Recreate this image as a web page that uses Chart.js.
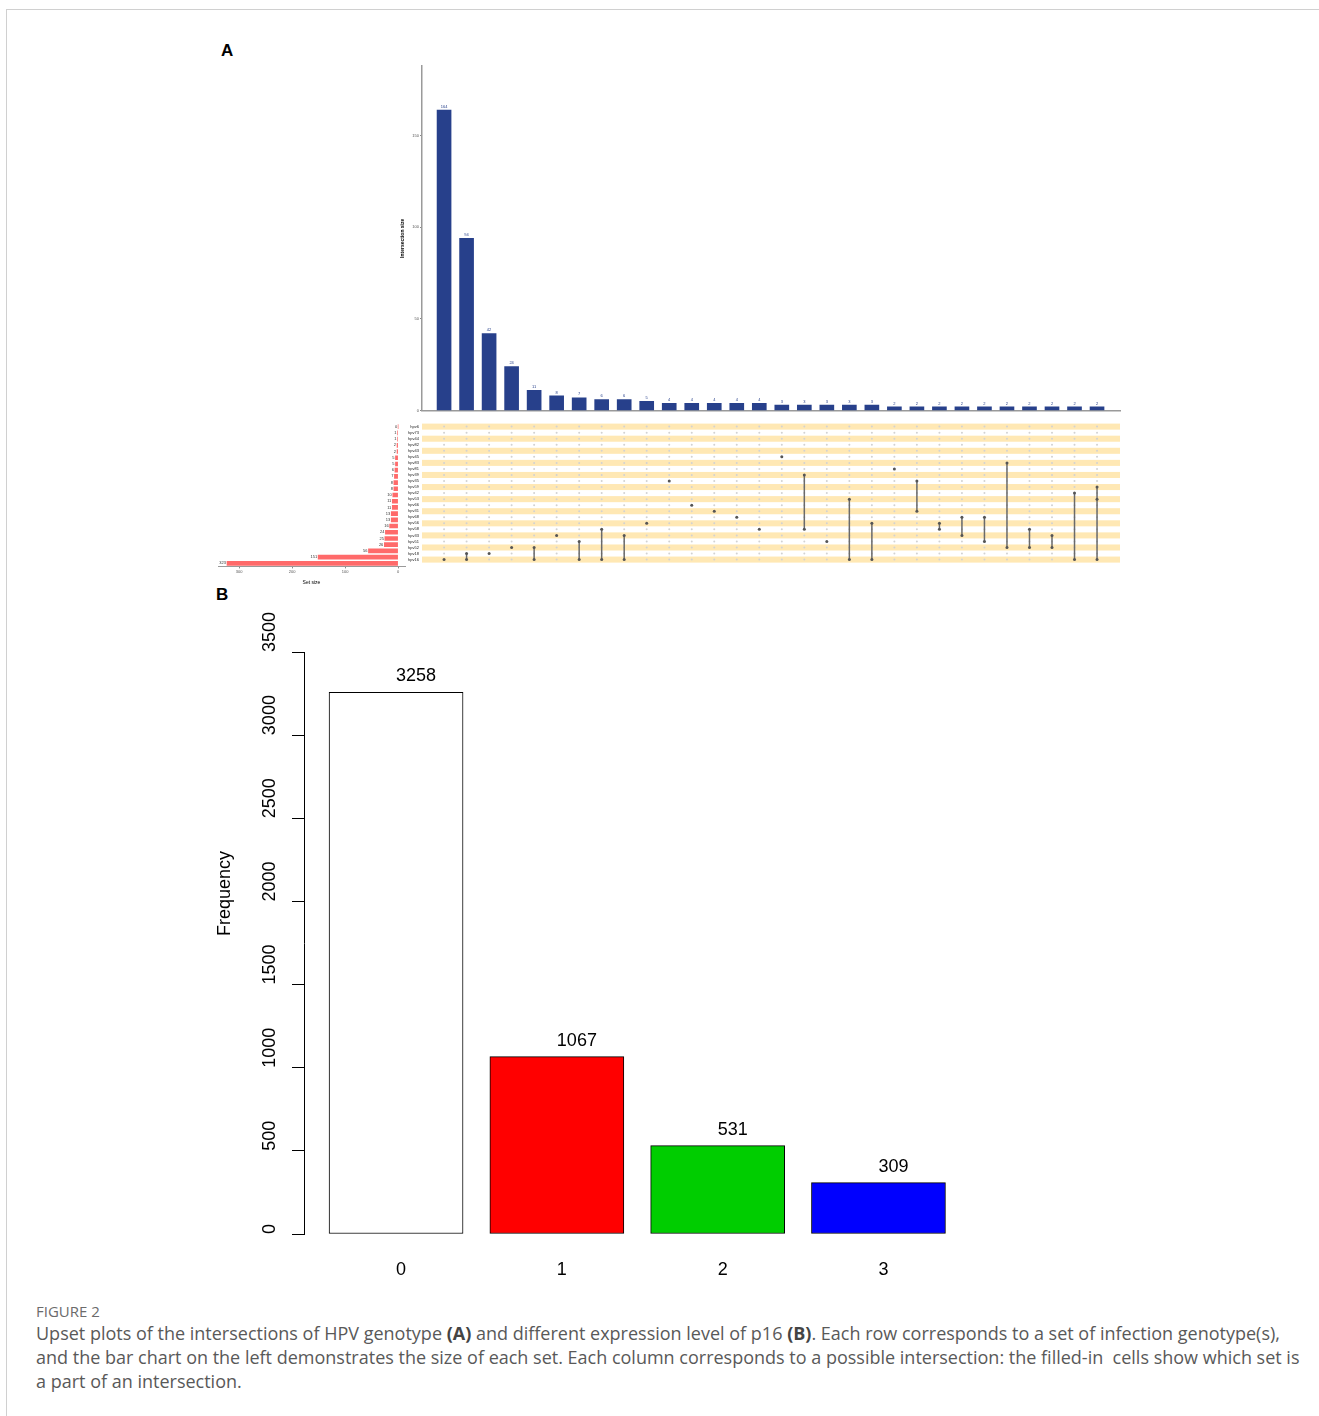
<!DOCTYPE html>
<html>
<head>
<meta charset="utf-8">
<script src="https://cdn.jsdelivr.net/npm/chart.js@4.4.0/dist/chart.umd.min.js"></script>
<style>
  body { margin:0; background:#fff; width:1319px; height:1416px; position:relative; overflow:hidden; font-family: Arial, "Liberation Sans", sans-serif; }
  .frame { position:absolute; left:6px; top:9px; width:1320px; height:1420px; border-top:1px solid #d0d0d0; border-left:1px solid #d0d0d0; }
  .panel { position:absolute; font-weight:bold; font-size:17px; color:#000; }
  .box { position:absolute; }
  .cap-head { position:absolute; left:36px; top:1301px; font-family:"Open Sans", "Noto Sans", sans-serif; font-size:15px; color:#6b6b6b; }
  .cap { position:absolute; left:36px; top:1321px; font-family:"Open Sans", "Noto Sans", sans-serif; font-size:18px; line-height:24px; color:#595959; white-space:nowrap; }
  .cap b { color:#444; }
</style>
</head>
<body>
<div class="frame"></div>
<div class="panel" style="left:221px; top:41px;">A</div>
<div class="panel" style="left:216px; top:585px;">B</div>

<div class="box" style="left:400px; top:56px;"><canvas id="interChart" width="730" height="358"></canvas></div>
<div class="box" style="left:400px; top:418px;"><canvas id="matrixChart" width="730" height="150"></canvas></div>
<div class="box" style="left:205px; top:418px;"><canvas id="setChart" width="215" height="170"></canvas></div>
<div class="box" style="left:200px; top:585px;"><canvas id="p16Chart" width="800" height="700"></canvas></div>

<div class="cap-head">FIGURE 2</div>
<div class="cap">Upset plots of the intersections of HPV genotype <b>(A)</b> and different expression level of p16 <b>(B)</b>. Each row corresponds to a set of infection genotype(s),<br>and the bar chart on the left demonstrates the size of each set. Each column corresponds to a possible intersection: the filled-in &nbsp;cells show which set is<br>a part of an intersection.</div>

<script>
// --- data (panel A) ---
const setNames = ['hpv6','hpv73','hpv44','hpv82','hpv43','hpv45','hpv83','hpv81','hpv39','hpv35','hpv59','hpv42',
                  'hpv53','hpv66','hpv31','hpv68','hpv56','hpv58','hpv33','hpv51','hpv52','hpv18','hpv16'];
const setSizes = [0,1,1,2,2,5,5,6,7,8,8,10,11,11,13,13,16,24,25,26,56,151,323];

const interValues = [164,94,42,24,11,8,7,6,6,5,4,4,4,4,4,3,3,3,3,3,2,2,2,2,2,2,2,2,2,2];
const interMembers = [
  ['hpv16'], ['hpv18','hpv16'], ['hpv18'], ['hpv52'], ['hpv52','hpv16'], ['hpv33'],
  ['hpv51','hpv16'], ['hpv58','hpv16'], ['hpv33','hpv16'], ['hpv56'], ['hpv35'], ['hpv66'],
  ['hpv31'], ['hpv68'], ['hpv58'], ['hpv45'], ['hpv39','hpv58'], ['hpv51'],
  ['hpv53','hpv16'], ['hpv56','hpv16'], ['hpv81'], ['hpv35','hpv31'], ['hpv56','hpv58'], ['hpv68','hpv33'],
  ['hpv68','hpv51'], ['hpv83','hpv52'], ['hpv58','hpv52'], ['hpv33','hpv52'], ['hpv42','hpv16'], ['hpv59','hpv53','hpv16']
];
const interTicks = [0, 50, 100, 150];
const setTicks = [0, 100, 200, 300];

// --- data (panel B) ---
const p16Levels = ['0','1','2','3'];
const p16Counts = [3258, 1067, 531, 309];
const p16Colors = ['#ffffff','#ff0000','#00cd00','#0000ff'];
const freqTicks = [0,500,1000,1500,2000,2500,3000,3500];

Chart.defaults.font.family = 'Arial, "Liberation Sans", sans-serif';
Chart.defaults.animation = false;

const barBlue = '#27408b';
const xRange = { min: -0.98, max: 30.02 };   // column index range shared by bars and matrix
const rowRange = { min: -0.5, max: 22.5 };

// --- intersection size bars ---
new Chart(document.getElementById('interChart'), {
  type: 'bar',
  data: {
    datasets: [{
      data: interValues.map((v, i) => ({ x: i, y: v })),
      backgroundColor: barBlue,
      barThickness: 14
    }]
  },
  options: {
    responsive: false,
    layout: { padding: { top: 10, right: 10, bottom: 2, left: 0 } },
    plugins: { legend: { display: false }, tooltip: { enabled: false } },
    scales: {
      x: {
        type: 'linear', min: xRange.min, max: xRange.max, offset: false,
        grid: { display: false, offset: false },
        ticks: { display: false },
        border: { color: '#9a9a9a', width: 1.5 },
        afterFit: s => { s.height = 0; }
      },
      y: {
        min: 0, max: 188,
        afterBuildTicks: s => { s.ticks = interTicks.map(v => ({ value: v })); },
        afterFit: s => { s.width = 22; },
        grid: { drawOnChartArea: false, tickLength: 2, color: '#888' },
        border: { color: '#9a9a9a', width: 1.5 },
        ticks: { font: { size: 4 }, color: '#555', padding: 1 },
        title: { display: true, text: 'Intersection size', font: { size: 5, weight: 'bold' }, color: '#000', padding: 0 }
      }
    }
  },
  plugins: [{
    id: 'barValues',
    afterDatasetsDraw(chart) {
      const ctx = chart.ctx;
      ctx.save();
      ctx.font = '4px Arial';
      ctx.fillStyle = barBlue;
      ctx.textAlign = 'center';
      ctx.textBaseline = 'bottom';
      chart.getDatasetMeta(0).data.forEach((bar, i) => {
        ctx.fillText(String(interValues[i]), bar.x, bar.y - 1.5);
      });
      ctx.restore();
    }
  }]
});

// --- matrix ---
const emptyDots = [];
const fullDots = [];
const lineSets = [];
interMembers.forEach((members, col) => {
  const rows = members.map(m => setNames.indexOf(m));
  setNames.forEach((name, r) => {
    if (rows.includes(r)) fullDots.push({ x: col, y: r });
    else emptyDots.push({ x: col, y: r });
  });
  if (rows.length > 1) {
    lineSets.push({
      type: 'line',
      order: 2,
      data: [{ x: col, y: Math.min(...rows) }, { x: col, y: Math.max(...rows) }],
      borderColor: '#6a6a6a', borderWidth: 1.5, pointRadius: 0, showLine: true
    });
  }
});

new Chart(document.getElementById('matrixChart'), {
  type: 'scatter',
  data: {
    datasets: [
      { data: emptyDots, order: 3, pointRadius: 1, backgroundColor: '#d2d2d2', borderWidth: 0 },
      ...lineSets,
      { data: fullDots, order: 1, pointRadius: 1.5, backgroundColor: '#555555', borderWidth: 0 }
    ]
  },
  options: {
    responsive: false,
    layout: { padding: { top: 5.6, right: 10, bottom: 1.6, left: 0 } },
    plugins: { legend: { display: false }, tooltip: { enabled: false } },
    scales: {
      x: { type: 'linear', min: xRange.min, max: xRange.max, offset: false, display: false },
      y: {
        type: 'linear', min: rowRange.min, max: rowRange.max, reverse: true, offset: false,
        afterBuildTicks: s => { s.ticks = setNames.map((n, i) => ({ value: i })); },
        afterFit: s => { s.width = 22; },
        grid: { display: false, drawTicks: false },
        border: { display: false },
        ticks: { font: { size: 4 }, color: '#222', padding: 3, autoSkip: false,
                 callback: v => setNames[v] }
      }
    }
  },
  plugins: [{
    id: 'stripes',
    beforeDatasetsDraw(chart) {
      const { ctx, chartArea, scales } = chart;
      ctx.save();
      ctx.fillStyle = '#ffe8b4';
      setNames.forEach((n, r) => {
        if (r % 2 !== 0) return;
        const y1 = scales.y.getPixelForValue(r - 0.5);
        const y2 = scales.y.getPixelForValue(r + 0.5);
        ctx.fillRect(chartArea.left, Math.min(y1, y2), chartArea.right - chartArea.left, Math.abs(y2 - y1));
      });
      ctx.restore();
    }
  }]
});

// --- set size bars ---
new Chart(document.getElementById('setChart'), {
  type: 'bar',
  data: {
    datasets: [{
      data: setSizes.map((v, r) => ({ x: v, y: r })),
      backgroundColor: '#ff6a6a',
      barThickness: 4
    }]
  },
  options: {
    indexAxis: 'y',
    responsive: false,
    layout: { padding: { top: 5.6, right: 15, bottom: 1.6, left: 13 } },
    plugins: { legend: { display: false }, tooltip: { enabled: false } },
    scales: {
      y: { type: 'linear', min: rowRange.min, max: rowRange.max, reverse: true, offset: false,
           grid: { offset: false }, display: false },
      x: {
        type: 'linear', min: -13, max: 340, reverse: true,
        afterBuildTicks: s => { s.ticks = setTicks.map(v => ({ value: v })); },
        afterFit: s => { s.height = 20; },
        grid: { drawOnChartArea: false, tickLength: 2, color: '#888' },
        border: { color: '#9a9a9a', width: 1 },
        ticks: { font: { size: 4 }, color: '#555', padding: 1, maxRotation: 0 },
        title: { display: true, text: 'Set size', font: { size: 5 }, color: '#000', padding: 1 }
      }
    }
  },
  plugins: [{
    id: 'setValues',
    afterDatasetsDraw(chart) {
      const ctx = chart.ctx;
      ctx.save();
      ctx.font = '4px Arial';
      ctx.fillStyle = '#333';
      ctx.textAlign = 'right';
      ctx.textBaseline = 'middle';
      chart.getDatasetMeta(0).data.forEach((bar, i) => {
        ctx.fillText(String(setSizes[i]), Math.min(bar.x, bar.base) - 1, bar.y);
      });
      ctx.restore();
    }
  }]
});

// --- panel B: p16 expression levels ---
const barCenters = [0.7, 1.9, 3.1, 4.3];
new Chart(document.getElementById('p16Chart'), {
  type: 'bar',
  data: {
    datasets: [{
      data: p16Counts.map((v, i) => ({ x: barCenters[i], y: v })),
      backgroundColor: p16Colors,
      borderColor: '#000',
      borderWidth: 1,
      borderSkipped: false,
      barThickness: 134
    }]
  },
  options: {
    responsive: false,
    layout: { padding: { top: 67, right: 0, bottom: 51, left: 0 } },
    plugins: { legend: { display: false }, tooltip: { enabled: false } },
    scales: {
      x: { type: 'linear', min: 0.013, max: 5.207, offset: false, grid: { offset: false }, display: false },
      y: {
        min: 0, max: 3500,
        afterBuildTicks: s => { s.ticks = freqTicks.map(v => ({ value: v })); },
        afterFit: s => { s.width = 104; },
        grid: { drawOnChartArea: false, tickLength: 12, color: '#000' },
        border: { color: '#000', width: 1 },
        ticks: { display: false }
      }
    }
  },
  plugins: [{
    id: 'baseText',
    afterDraw(chart) {
      const { ctx, chartArea, scales } = chart;
      ctx.save();
      ctx.font = '18px Arial, "Liberation Sans"';
      ctx.fillStyle = '#000';
      // y tick labels, rotated, starting at the tick
      ctx.textBaseline = 'middle';
      ctx.textAlign = 'left';
      freqTicks.forEach(v => {
        const y = scales.y.getPixelForValue(v);
        ctx.save();
        ctx.translate(70, y);
        ctx.rotate(-Math.PI / 2);
        ctx.fillText(String(v), 0, 0);
        ctx.restore();
      });
      // axis title
      ctx.save();
      ctx.translate(25, (chartArea.top + chartArea.bottom) / 2 - 7);
      ctx.rotate(-Math.PI / 2);
      ctx.fillText('Frequency', 0, 0);
      ctx.restore();
      // category labels and counts
      const meta = chart.getDatasetMeta(0);
      meta.data.forEach((bar, i) => {
        ctx.textBaseline = 'middle';
        ctx.fillText(p16Levels[i], bar.x, chartArea.bottom + 36);
        ctx.fillText(String(p16Counts[i]), bar.x, bar.y - 16);
      });
      ctx.restore();
    }
  }]
});
</script>
</body>
</html>
